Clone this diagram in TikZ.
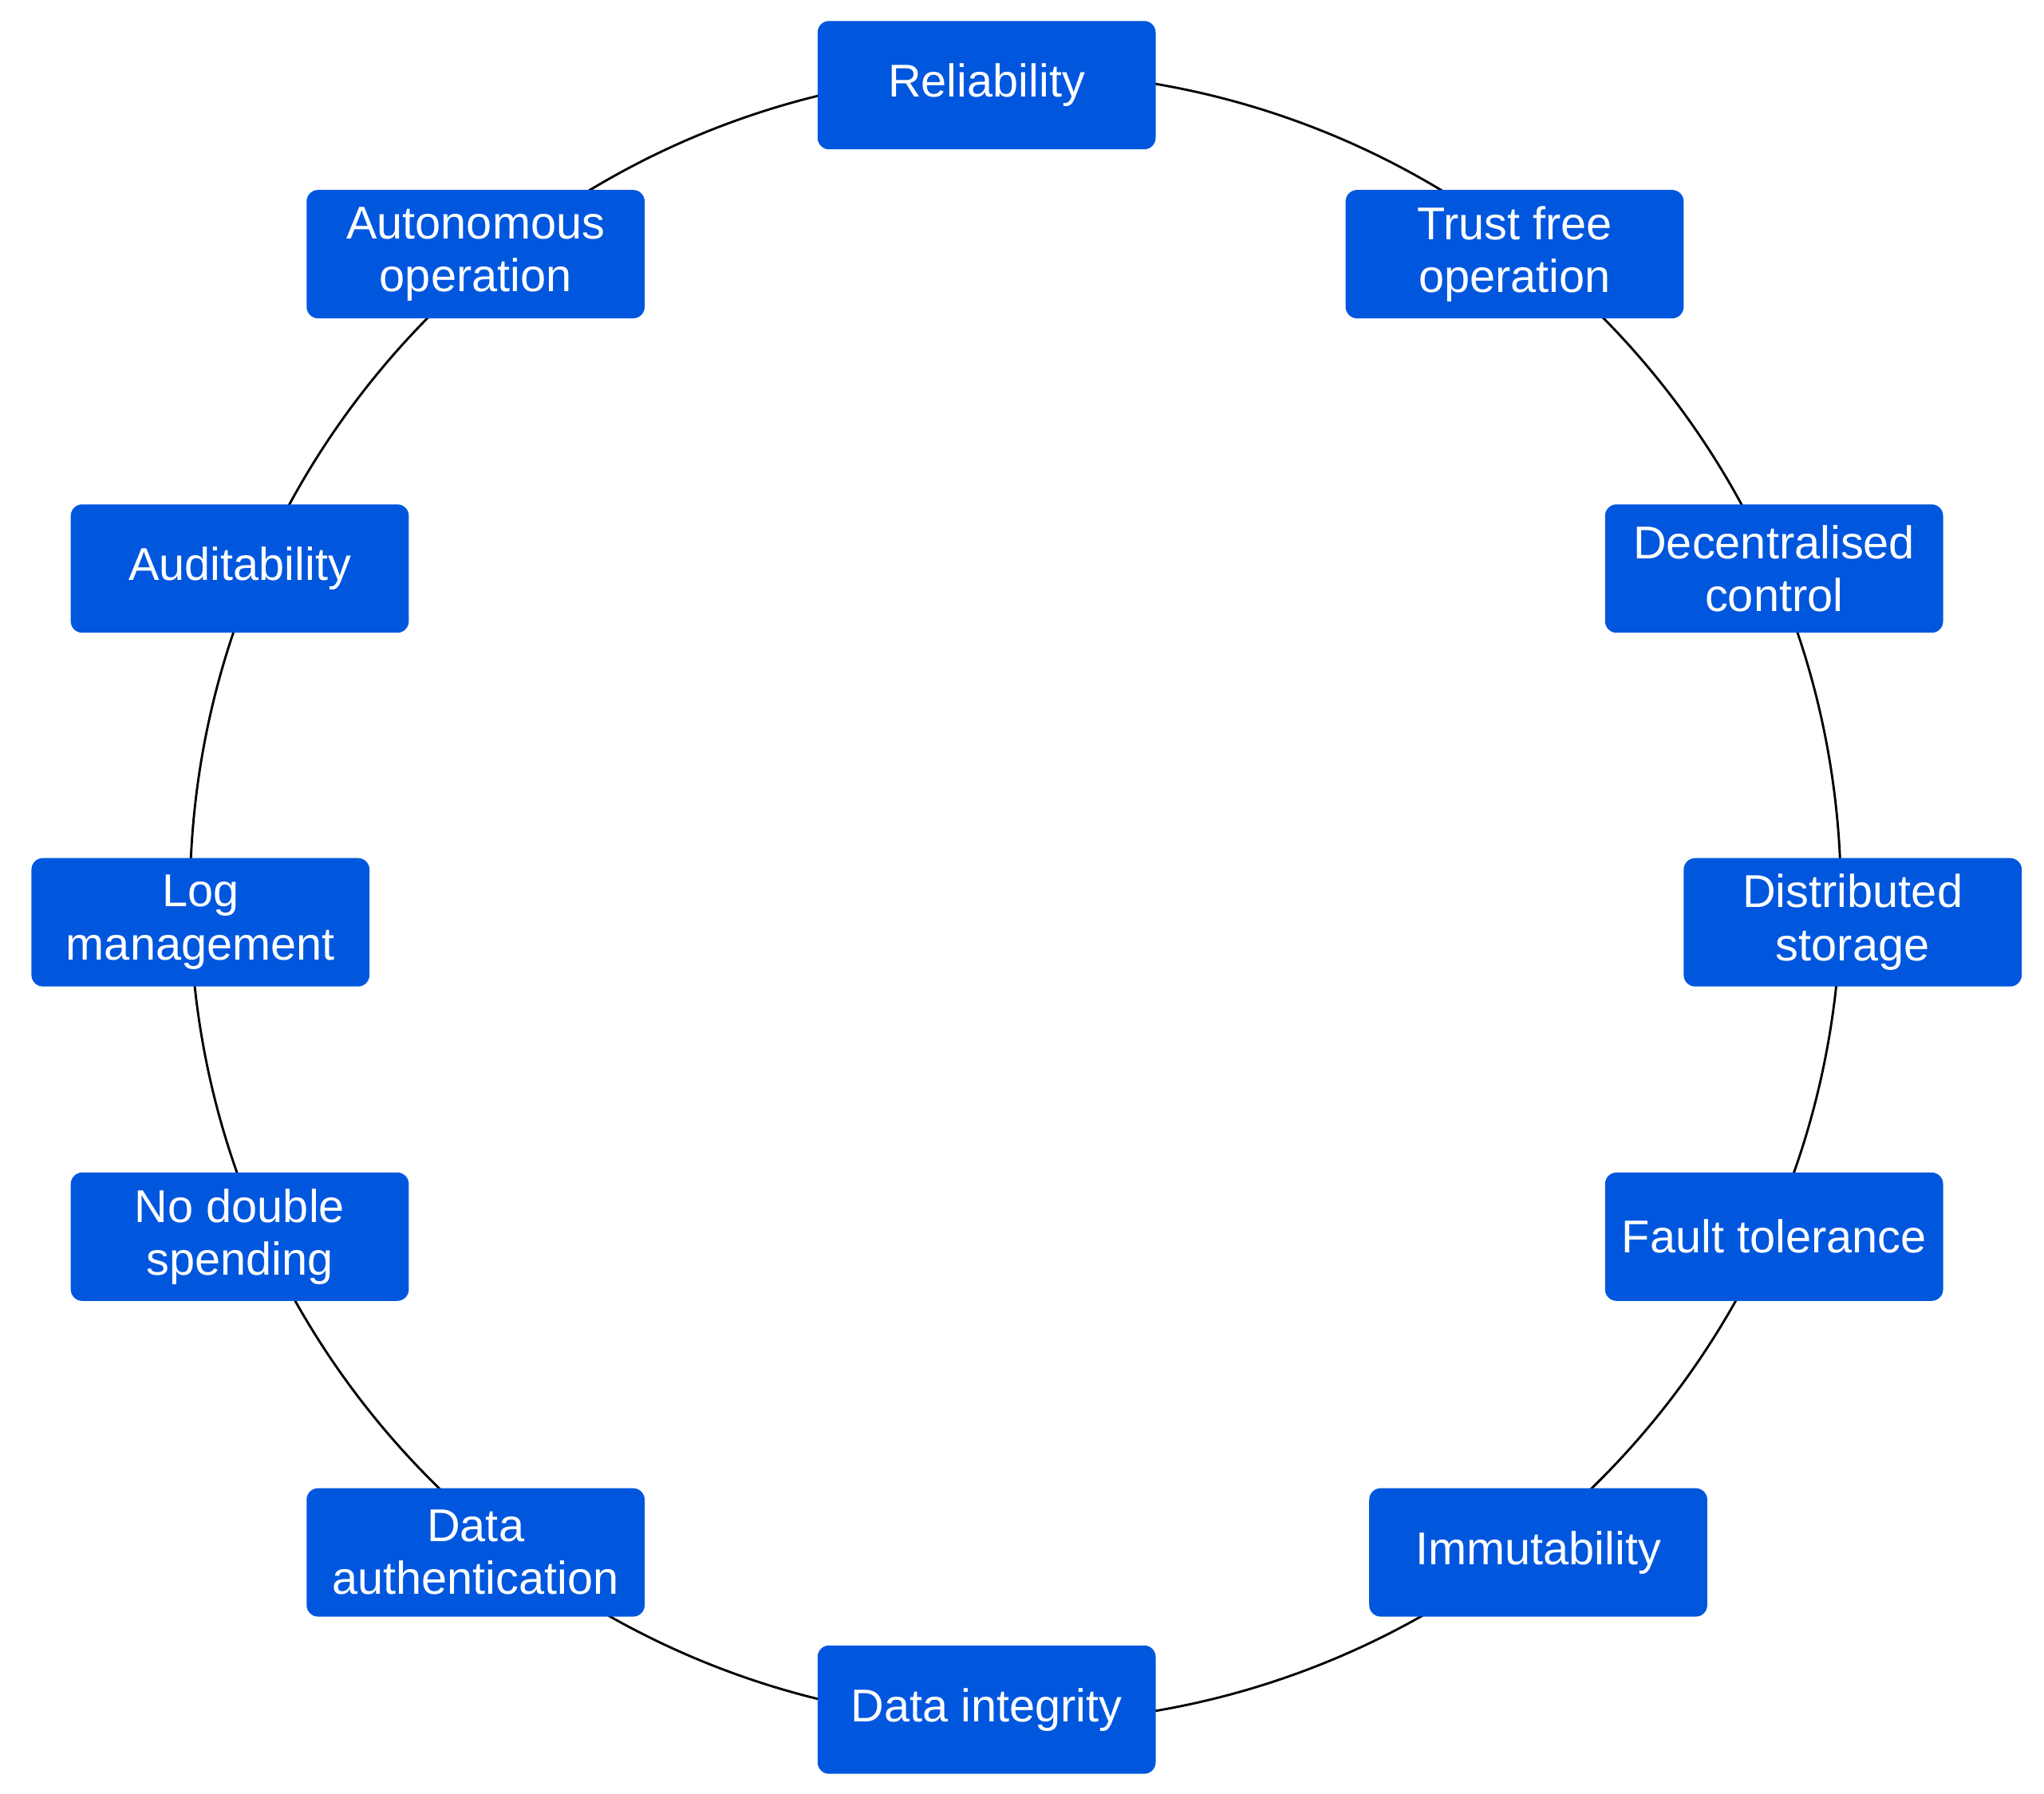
\documentclass[tikz,border=0pt]{standalone}
\usepackage{fontspec}
\setmainfont{Liberation Sans}
\definecolor{boxblue}{HTML}{0057DE}
\begin{document}
\begin{tikzpicture}[x=0.02cm,y=-0.02cm,
  box/.style={draw=none,fill=boxblue,rounded corners=5pt,minimum width=258*0.02cm,minimum height=98*0.02cm,
    text=white,align=center,font=\fontsize{20}{23}\selectfont,inner sep=2pt}]
\useasboundingbox (0,0) rectangle (1560,1369);
\draw[line width=1pt] (775,685) circle[radius=630*0.02cm];
\node[box] (rel) at (753,65) {Reliability};
\node[box] (trust) at (1156,194) {Trust free\\operation};
\node[box] (dec) at (1354,434) {Decentralised\\control};
\node[box] (dist) at (1414,704) {Distributed\\storage};
\node[box] (fault) at (1354,944) {Fault tolerance};
\node[box] (imm) at (1174,1185) {Immutability};
\node[box] (integ) at (753,1305) {Data integrity};
\node[box] (auth) at (363,1185) {Data\\authentication};
\node[box] (nodbl) at (183,944) {No double\\spending};
\node[box] (log) at (153,704) {Log\\management};
\node[box] (aud) at (183,434) {Auditability};
\node[box] (auto) at (363,194) {Autonomous\\operation};
\end{tikzpicture}
\end{document}
